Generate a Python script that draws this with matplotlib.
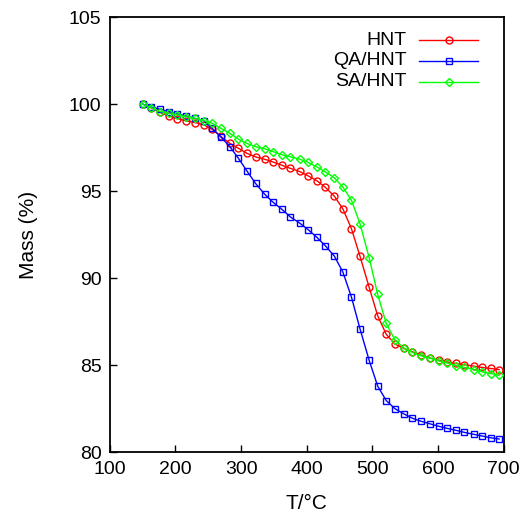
import matplotlib
matplotlib.use("Agg")
import matplotlib.pyplot as plt

# temperature of each sample (°C)
temp = [150, 163, 177, 190, 203, 216, 230, 243, 256, 269, 283, 296, 309, 322,
        336, 349, 362, 375, 389, 402, 415, 428, 442, 455, 468, 481, 495, 508,
        521, 534, 548, 561, 574, 587, 601, 614, 627, 640, 654, 667, 680, 693]

hnt = [100.0, 99.78, 99.52, 99.32, 99.17, 99.04, 98.94, 98.81, 98.55, 98.15,
       97.74, 97.46, 97.17, 96.97, 96.83, 96.67, 96.49, 96.31, 96.13, 95.88,
       95.61, 95.23, 94.71, 93.98, 92.85, 91.27, 89.48, 87.84, 86.78, 86.22,
       85.96, 85.77, 85.58, 85.42, 85.29, 85.19, 85.10, 85.02, 84.95, 84.87,
       84.81, 84.75]

qa_hnt = [100.0, 99.83, 99.70, 99.57, 99.43, 99.32, 99.18, 99.05, 98.61, 98.12,
          97.55, 96.88, 96.15, 95.44, 94.82, 94.35, 93.96, 93.52, 93.17, 92.79,
          92.36, 91.87, 91.27, 90.35, 88.92, 87.10, 85.28, 83.80, 82.97, 82.51,
          82.20, 81.95, 81.78, 81.64, 81.49, 81.37, 81.26, 81.14, 81.03, 80.93,
          80.83, 80.76]

sa_hnt = [100.0, 99.80, 99.57, 99.47, 99.38, 99.28, 99.18, 99.05, 98.90, 98.61,
          98.32, 97.98, 97.74, 97.55, 97.43, 97.27, 97.09, 96.97, 96.84, 96.65,
          96.40, 96.11, 95.76, 95.24, 94.48, 93.14, 91.18, 89.07, 87.40, 86.47,
          85.98, 85.73, 85.54, 85.41, 85.25, 85.12, 84.98, 84.87, 84.75, 84.62,
          84.52, 84.41]

series = [
    ("HNT", hnt, "#ff0000", "o"),
    ("QA/HNT", qa_hnt, "#0000ff", "s"),
    ("SA/HNT", sa_hnt, "#00ff00", "D"),
]

plt.rcParams.update({
    "font.family": ["Liberation Sans", "DejaVu Sans"],
    "xtick.direction": "in",
    "ytick.direction": "in",
    "xtick.major.size": 5,
    "ytick.major.size": 5,
    "xtick.major.width": 1.0,
    "ytick.major.width": 1.0,
    "xtick.major.pad": 6,
    "ytick.major.pad": 6,
})

fig = plt.figure(figsize=(5.28, 5.18), dpi=100)
ax = fig.add_axes([0.208, 0.127, 0.746, 0.840])

msize = {"o": 5, "s": 5, "D": 4.2}
for label, vals, color, marker in series:
    ax.plot(temp, vals, color=color, lw=1.0, marker=marker, ms=msize[marker],
            mfc="none", mec=color, mew=1.0, zorder=3)

ax.set_xlim(100, 700)
ax.set_ylim(80, 105)
ax.set_xticks(range(100, 701, 100))
ax.set_yticks(range(80, 106, 5))
ax.tick_params(labelsize=14)
for sp in ax.spines.values():
    sp.set_linewidth(1.3)

ax.set_xlabel("T/°C", fontsize=15, labelpad=12)
ax.set_ylabel("Mass (%)", fontsize=15, labelpad=22)

# gnuplot-style key: label right-aligned, sample line to its right
key_y = [0.947, 0.900, 0.851]
for (label, vals, color, marker), ky in zip(series, key_y):
    ax.text(0.754, ky, label, transform=ax.transAxes, ha="right", va="center",
            fontsize=14)
    ax.plot([0.785, 0.935], [ky, ky], color=color, lw=1.0,
            transform=ax.transAxes, clip_on=False)
    ax.plot([0.86], [ky], color=color, marker=marker, ms=msize[marker],
            mfc="none", mec=color, mew=1.0, transform=ax.transAxes,
            clip_on=False)

fig.savefig("out.png", dpi=100)
